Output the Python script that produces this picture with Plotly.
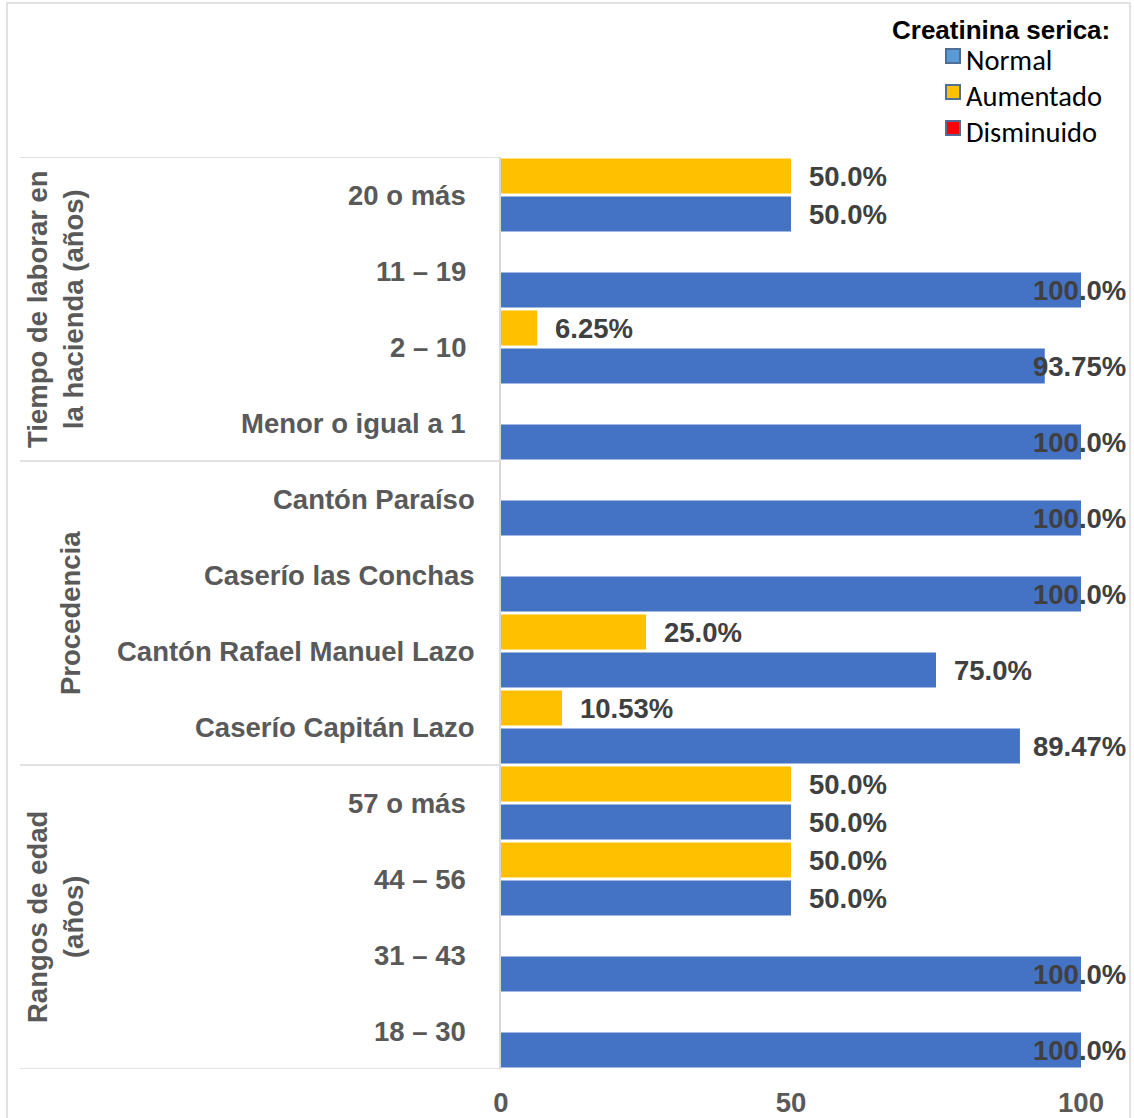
import plotly.graph_objects as go

# ---- data -------------------------------------------------------------
categories = [
    "18 – 30", "31 – 43", "44 – 56", "57 o más",
    "Caserío Capitán Lazo", "Cantón Rafael Manuel Lazo",
    "Caserío las Conchas", "Cantón Paraíso",
    "Menor o igual a 1", "2 – 10", "11 – 19", "20 o más",
]
normal = [100, 100, 50, 50, 89.47, 75, 100, 100, 100, 93.75, 100, 50]
aumentado = [None, None, 50, 50, 10.53, 25, None, None, None, 6.25, None, 50]
normal_labels = ["100.0%", "100.0%", "50.0%", "50.0%", "89.47%", "75.0%",
                 "100.0%", "100.0%", "100.0%", "93.75%", "100.0%", "50.0%"]
aumentado_labels = [None, None, "50.0%", "50.0%", "10.53%", "25.0%",
                    None, None, None, "6.25%", None, "50.0%"]

groups = ["Rangos de edad<br>(años)", "Procedencia",
          "Tiempo de laborar en<br>la hacienda (años)"]
group_sizes = [4, 4, 4]

legend_title = "Creatinina serica:"
legend_names = ["Normal", "Aumentado", "Disminuido"]
legend_fills = ["#5B9BD5", "#FFC000", "#FF0000"]

x_ticks = [0, 50, 100]

# ---- layout geometry (pixels) ----------------------------------------
W, H = 1134, 1118
L, R, T, B = 501, 1081, 157, 1069
PW, PH = R - L, B - T
X_MAX = 100


def xp(px):
    return (px - L) / PW


def yp(py):
    return (B - py) / PH


BLUE = "#4472C4"
GOLD = "#FFC000"
FONT = "Liberation Sans, Arial, sans-serif"
LABEL_GREY = "#595959"
VALUE_GREY = "#404040"
TXT = 27.5

fig = go.Figure()
fig.add_trace(go.Bar(y=categories, x=normal, orientation="h", name="Normal",
                     marker=dict(color=BLUE, line=dict(width=0)),
                     showlegend=False, hoverinfo="x+y"))
fig.add_trace(go.Bar(y=categories, x=aumentado, orientation="h", name="Aumentado",
                     marker=dict(color=GOLD, line=dict(width=0)),
                     showlegend=False, hoverinfo="x+y"))

annotations = []

# value labels: placed past the bar end, pulled back inside the chart edge
X_LIMIT = xp(1128)          # right edge available for labels (paper units)
PAD = 16 / PW
CHAR_W = 16 / PW
SLOT = PH / len(categories) / 2  # pixel offset of each bar inside its band


def add_value_labels(values, labels, shift):
    for cat, v, lab in zip(categories, values, labels):
        if v is None or lab is None:
            continue
        end = v / X_MAX
        if end + PAD + CHAR_W * len(lab) > X_LIMIT:
            x, anchor = X_LIMIT, "right"
        else:
            x, anchor = end + PAD, "left"
        annotations.append(dict(
            x=x, y=cat, xref="paper", yref="y", text=lab, showarrow=False,
            xanchor=anchor, yanchor="middle", yshift=shift,
            font=dict(family=FONT, size=TXT, color=VALUE_GREY, weight="bold")))


add_value_labels(normal, normal_labels, -SLOT / 2)
add_value_labels(aumentado, aumentado_labels, SLOT / 2)

# category labels (right-aligned next to the axis)
label_right = [468, 477, 468]
idx = 0
for g, n in enumerate(group_sizes):
    for k in range(n):
        annotations.append(dict(
            x=xp(label_right[g]), y=categories[idx + k], xref="paper", yref="y",
            text=categories[idx + k], showarrow=False, xanchor="right",
            yanchor="middle",
            font=dict(family=FONT, size=TXT, color=LABEL_GREY, weight="bold")))
    idx += n

# group titles (rotated)
group_x = [55, 70, 55]
idx = 0
for g, n in enumerate(group_sizes):
    mid = idx + (n - 1) / 2
    annotations.append(dict(
        x=xp(group_x[g]), y=mid, xref="paper", yref="y", text=groups[g],
        showarrow=False, textangle=-90, align="center",
        xanchor="center", yanchor="middle",
        font=dict(family=FONT, size=TXT, color=LABEL_GREY, weight="bold")))
    idx += n

shapes = []
# group separators on the category side
bounds = [-0.5]
for n in group_sizes:
    bounds.append(bounds[-1] + n)
for b in bounds:
    shapes.append(dict(type="line", xref="paper", yref="y",
                       x0=xp(20), x1=0, y0=b, y1=b,
                       line=dict(color="#D9D9D9", width=1.5)))

# chart outer border (bottom edge falls below the page)
shapes.append(dict(type="rect", xref="paper", yref="paper",
                   x0=xp(7), x1=xp(1130), y0=yp(1140), y1=yp(3),
                   line=dict(color="#D9D9D9", width=1.5), fillcolor="rgba(0,0,0,0)"))

# legend
annotations.append(dict(
    x=xp(1001), y=yp(30), xref="paper", yref="paper", text=legend_title,
    showarrow=False, xanchor="center", yanchor="middle",
    font=dict(family=FONT, size=26, color="#000000", weight="bold")))
for i, (name, fill) in enumerate(zip(legend_names, legend_fills)):
    cy = 56 + 36 * i
    shapes.append(dict(type="rect", xref="paper", yref="paper",
                       x0=xp(946), x1=xp(960), y0=yp(cy + 7), y1=yp(cy - 7),
                       line=dict(color="#4F6F94", width=2), fillcolor=fill))
    annotations.append(dict(
        x=xp(964), y=yp(cy + 5), xref="paper", yref="paper", text=name,
        showarrow=False, xanchor="left", yanchor="middle",
        font=dict(family="Carlito, Lato, sans-serif", size=28.5, color="#000000")))

fig.update_layout(
    width=W, height=H, autosize=False,
    margin=dict(l=L, r=W - R, t=T, b=H - B, pad=0, autoexpand=False),
    paper_bgcolor="white", plot_bgcolor="white",
    barmode="group", bargap=0, bargroupgap=0.08,
    xaxis=dict(range=[0, X_MAX], tickvals=x_ticks, showgrid=False, zeroline=False,
               showline=False, ticks="", ticklabelstandoff=14, automargin=False,
               tickfont=dict(family=FONT, size=TXT, color=LABEL_GREY, weight="bold")),
    yaxis=dict(type="category", categoryorder="array", categoryarray=categories,
               range=[-0.5, len(categories) - 0.5], showticklabels=False,
               showgrid=False, zeroline=False, showline=True, automargin=False,
               linecolor="#D9D9D9", linewidth=1.5, ticks=""),
    shapes=shapes, annotations=annotations,
)

fig.write_html("out.html")
